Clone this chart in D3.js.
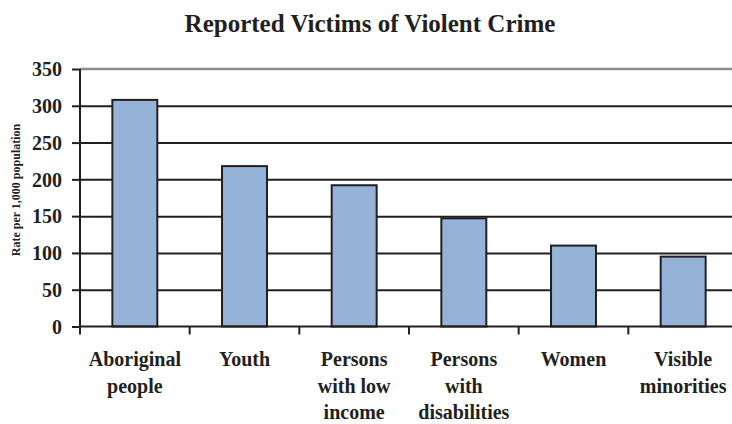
<!DOCTYPE html>
<html lang="en">
  <head>
    <meta charset="UTF-8" />
    <title>Reported Victims of Violent Crime</title>
    <script src="https://d3js.org/d3.v7.min.js"></script>
    <style>
      body {
        margin: 0;
        background: #fff;
      }
      svg text {
        font-family: 'Liberation Serif', 'DejaVu Serif', serif;
        font-weight: bold;
      }
      .grid line {
        stroke: #231f20;
        stroke-width: 2px;
      }
      .grid path {
        stroke: none;
      }
      .axis path,
      .axis line {
        stroke: #231f20;
        stroke-width: 2px;
      }
      .bar {
        fill: #95b3d7;
        stroke: #231f20;
        stroke-width: 2px;
      }
    </style>
  </head>
  <body>
    <div id="chart"></div>

    <script>
      const categories = [
        ['Aboriginal', 'people'],
        ['Youth'],
        ['Persons', 'with low', 'income'],
        ['Persons', 'with', 'disabilities'],
        ['Women'],
        ['Visible', 'minorities'],
      ];
      const rates = [308, 218, 192, 147, 110, 95];
      const yTicks = [0, 50, 100, 150, 200, 250, 300, 350];

      const W = 732,
        H = 424;
      const margin = { top: 69, left: 80 },
        width = 658,
        height = 257.5;

      const svg = d3
        .select('#chart')
        .append('svg')
        .attr('width', W)
        .attr('height', H);

      const g = svg
        .append('g')
        .attr('transform', `translate(${margin.left},${margin.top})`);

      const names = categories.map((c) => c.join(' '));

      const x = d3.scaleBand().domain(names).range([0, width]);
      const y = d3.scaleLinear().domain([0, 350]).range([height, 0]);

      // grid lines
      g.append('g')
        .attr('class', 'grid')
        .call(
          d3.axisLeft(y).tickValues(yTicks.slice(1, -1)).tickSize(-W).tickFormat(''),
        );

      // top border line (grey)
      g.append('line')
        .attr('x1', 0)
        .attr('x2', W)
        .attr('y1', y(350))
        .attr('y2', y(350))
        .attr('stroke', '#8c8c8c')
        .attr('stroke-width', 2.5);

      // bars
      const barW = x.bandwidth() * 0.41;
      g.selectAll('.bar')
        .data(rates)
        .enter()
        .append('rect')
        .attr('class', 'bar')
        .attr('x', (d, i) => x(names[i]) + (x.bandwidth() - barW) / 2)
        .attr('y', (d) => y(d))
        .attr('width', barW)
        .attr('height', (d) => y(0) - y(d));

      // y axis
      const yAxis = g
        .append('g')
        .attr('class', 'axis')
        .call(
          d3.axisLeft(y).tickValues(yTicks).tickSize(8).tickSizeOuter(0).tickPadding(10),
        );
      yAxis.attr('font-family', null).attr('font-size', null);
      yAxis.select('.domain').attr('d', `M0,${y(350)}V${height + 8}`);
      yAxis
        .selectAll('text')
        .attr('font-size', 20)
        .attr('fill', '#231f20')
        .attr('dy', '0.34em');

      // x axis: baseline + boundary ticks
      g.append('line')
        .attr('x1', 0)
        .attr('x2', W)
        .attr('y1', y(0))
        .attr('y2', y(0))
        .attr('stroke', '#231f20')
        .attr('stroke-width', 2);

      g.selectAll('.xtick')
        .data(names.slice(1).concat(['end']))
        .enter()
        .append('line')
        .attr('class', 'xtick')
        .attr('x1', (d, i) => (i < names.length - 1 ? x(d) : width))
        .attr('x2', (d, i) => (i < names.length - 1 ? x(d) : width))
        .attr('y1', y(0))
        .attr('y2', y(0) + 8)
        .attr('stroke', '#231f20')
        .attr('stroke-width', 2);

      // category labels
      const lbl = g
        .selectAll('.cat')
        .data(categories)
        .enter()
        .append('text')
        .attr('class', 'cat')
        .attr('text-anchor', 'middle')
        .attr('font-size', 20)
        .attr('fill', '#231f20')
        .attr('transform', (d, i) => `translate(${x(names[i]) + x.bandwidth() / 2},${height + 39.5})`);
      lbl
        .selectAll('tspan')
        .data((d) => d)
        .enter()
        .append('tspan')
        .attr('x', 0)
        .attr('y', (d, i) => i * 26.5)
        .text((d) => d);

      // title
      svg
        .append('text')
        .attr('x', 370)
        .attr('y', 32)
        .attr('text-anchor', 'middle')
        .attr('font-size', 25)
        .attr('fill', '#231f20')
        .text('Reported Victims of Violent Crime');

      // y label
      svg
        .append('text')
        .attr('transform', `translate(20,${margin.top + 121}) rotate(-90)`)
        .attr('text-anchor', 'middle')
        .attr('font-size', 12)
        .attr('fill', '#231f20')
        .text('Rate per 1,000 population');
    </script>
  </body>
</html>
